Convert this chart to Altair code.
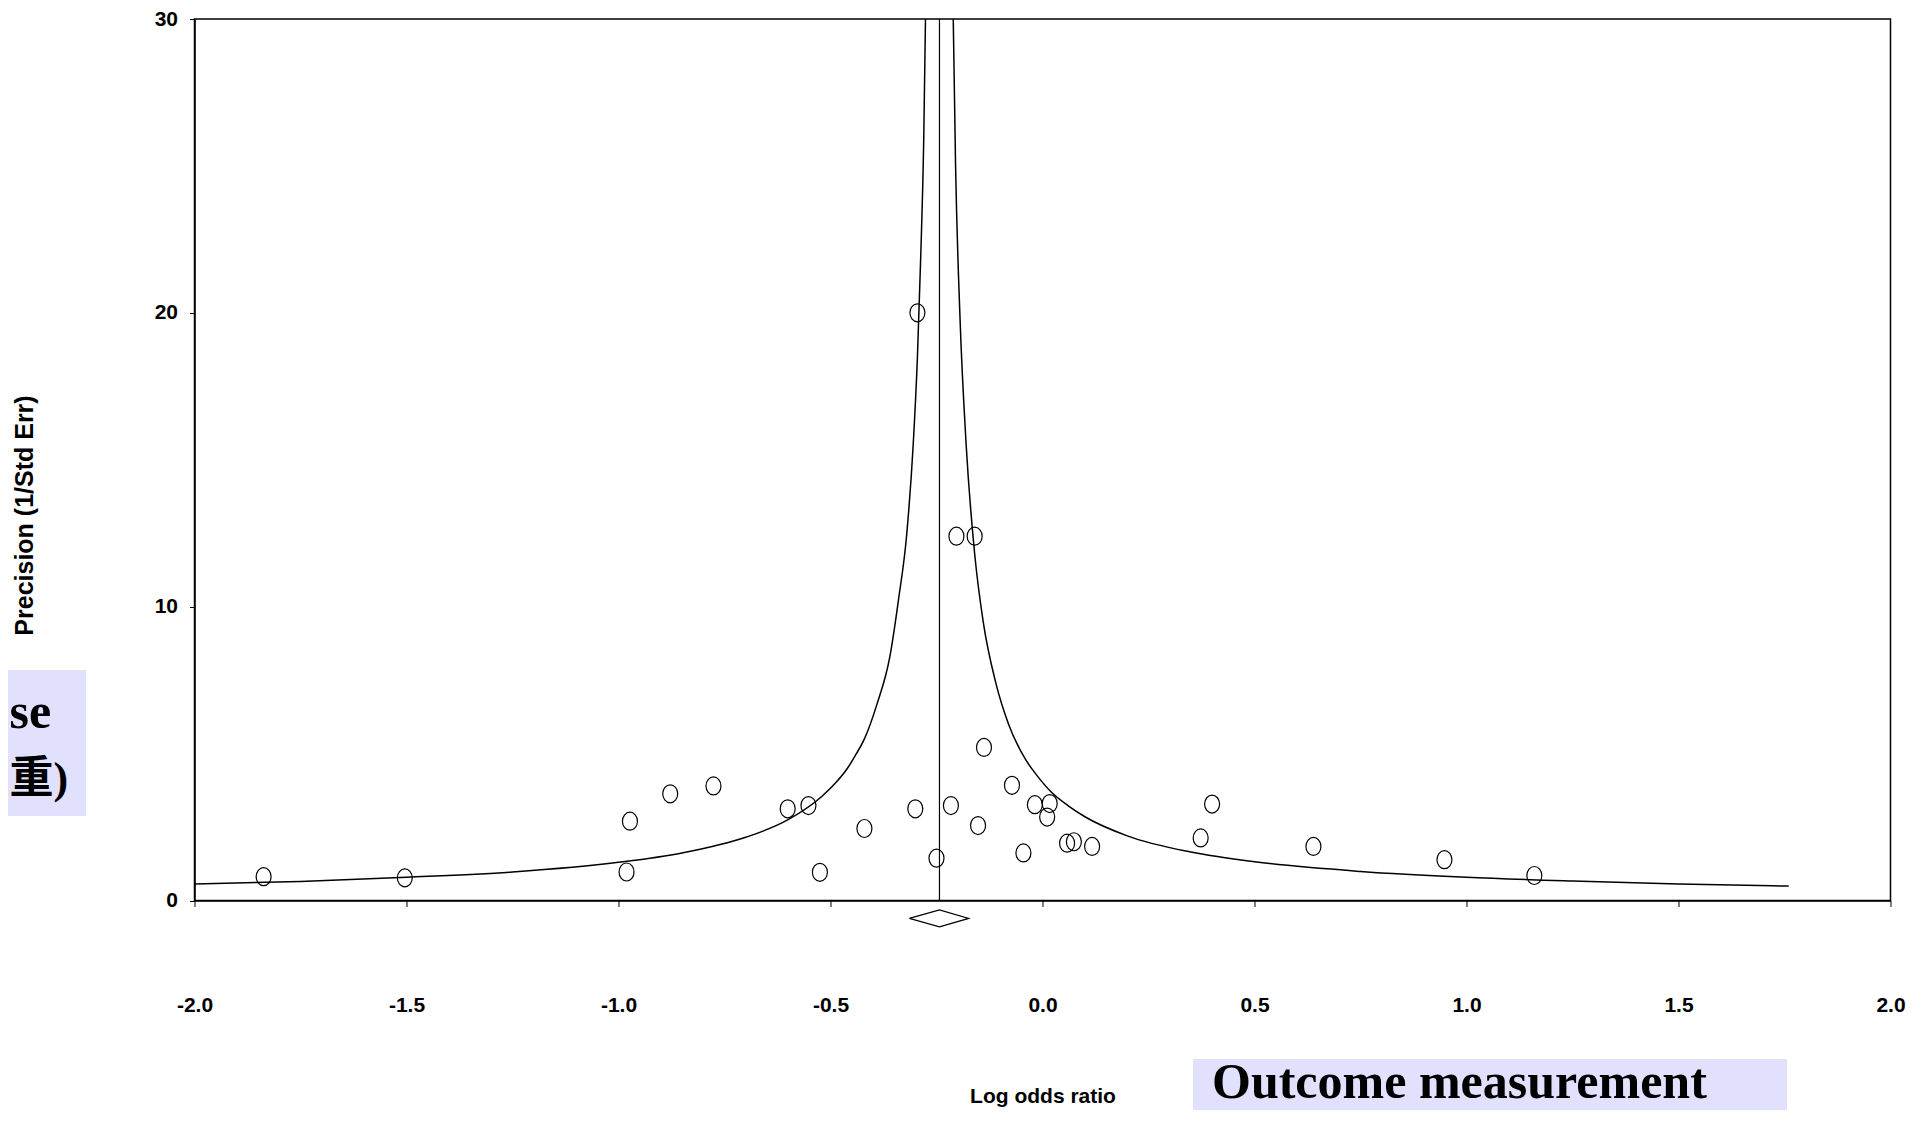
import altair as alt
import pandas as pd

# ---- data ----
study_log_or = [-1.837, -1.504, -0.981, -0.973, -0.878, -0.776, -0.601, -0.552, -0.525,
                -0.420, -0.300, -0.295, -0.250, -0.216, -0.203, -0.160, -0.152, -0.138,
                -0.072, -0.045, -0.018, 0.011, 0.017, 0.058, 0.074, 0.117, 0.373, 0.400,
                0.639, 0.948, 1.160]
study_precision = [0.81, 0.77, 0.97, 2.70, 3.63, 3.90, 3.12, 3.23, 0.96,
                   2.45, 3.12, 20.0, 1.44, 3.23, 12.4, 12.4, 2.55, 5.21,
                   3.92, 1.62, 3.26, 2.84, 3.30, 1.95, 2.00, 1.84, 2.13, 3.28,
                   1.84, 1.39, 0.85]

funnel_left_x = [-2.00, -1.75, -1.50, -1.25, -1.00, -0.85, -0.70, -0.60, -0.52, -0.49,
                 -0.46, -0.44, -0.42, -0.39, -0.36, -0.34, -0.32, -0.305, -0.295, -0.287,
                 -0.280, -0.276]
funnel_left_p = [0.56, 0.65, 0.79, 0.97, 1.30, 1.62, 2.15, 2.75, 3.55, 3.97,
                 4.5, 4.97, 5.5, 6.7, 8.3, 10.2, 12.5, 15.5, 18.5, 22.0,
                 26.0, 30.0]
funnel_right_x = [1.76, 1.50, 1.25, 1.00, 0.75, 0.50, 0.35, 0.20, 0.10, 0.06,
                  0.02, -0.01, -0.04, -0.08, -0.11, -0.14, -0.16, -0.18, -0.195,
                  -0.205, -0.2105]
funnel_right_p = [0.49, 0.56, 0.66, 0.79, 0.99, 1.32, 1.65, 2.2, 2.85, 3.23,
                  3.7, 4.2, 4.8, 6.0, 7.4, 9.5, 11.8, 15.5, 20.0,
                  25.0, 30.0]

pooled_effect = -0.243
diamond_x = [-0.314, -0.243, -0.174, -0.243, -0.314]
diamond_y = [-0.61, -0.32, -0.61, -0.90, -0.61]

x_ticks = [-2.0, -1.5, -1.0, -0.5, 0.0, 0.5, 1.0, 1.5, 2.0]
y_ticks = [0, 10, 20, 30]

# ---- tables ----
pts = pd.DataFrame({"x": study_log_or, "p": study_precision})
left = pd.DataFrame({"x": funnel_left_x, "p": funnel_left_p})
right = pd.DataFrame({"x": funnel_right_x, "p": funnel_right_p})
rule_df = pd.DataFrame({"x": [pooled_effect], "p0": [0], "p1": [30]})
diamond = pd.DataFrame({"x": diamond_x, "p": diamond_y, "i": list(range(len(diamond_x)))})
one = pd.DataFrame({"a": [0]})

W, H = 1696, 881.5
xs = alt.Scale(domain=[-2, 2], nice=False, zero=False)
ys = alt.Scale(domain=[0, 30], nice=False, zero=False)

LABEL_FONT = "Liberation Sans"

x_axis = alt.Axis(
    values=x_ticks,
    labelExpr="datum.value < 0 ? '-' + format(-datum.value, '.1f') : format(datum.value, '.1f')",
    labelFont=LABEL_FONT, labelFontWeight="bold", labelFontSize=21, labelColor="black",
    labelFlush=False,
    tickColor="black", tickSize=6, labelPadding=88, grid=False,
    domainColor="black", domainWidth=1.5,
    title="Log odds ratio", titleFont=LABEL_FONT, titleFontWeight="bold", titleFontSize=21,
    titleColor="black", titleY=202, titleBaseline="alphabetic",
)
y_axis = alt.Axis(
    values=y_ticks, format="d",
    labelFont=LABEL_FONT, labelFontWeight="bold", labelFontSize=21, labelColor="black",
    tickColor="black", tickSize=5, labelPadding=12, grid=False,
    domainColor="black", domainWidth=1.5,
    title="Precision (1/Std Err)", titleFont=LABEL_FONT, titleFontWeight="bold",
    titleFontSize=25, titleColor="black", titleAngle=270, titleAlign="center",
    titleBaseline="middle", titleX=-170, titleY=496,
)

ellipse = "M 0 -1 A 0.833 1 0 1 1 0 1 A 0.833 1 0 1 1 0 -1 Z"

points = alt.Chart(pts).mark_point(
    shape=ellipse, size=324, filled=False, stroke="black", strokeWidth=1.2, opacity=1
).encode(
    x=alt.X("x:Q", scale=xs, axis=x_axis),
    y=alt.Y("p:Q", scale=ys, axis=y_axis),
)

left_line = alt.Chart(left).mark_line(
    color="black", strokeWidth=1.5, interpolate="monotone", clip=True
).encode(x=alt.X("x:Q", scale=xs), y=alt.Y("p:Q", scale=ys))

right_line = alt.Chart(right).mark_line(
    color="black", strokeWidth=1.5, interpolate="monotone", clip=True
).encode(x=alt.X("x:Q", scale=xs), y=alt.Y("p:Q", scale=ys))

center_rule = alt.Chart(rule_df).mark_rule(color="black", strokeWidth=1.2).encode(
    x=alt.X("x:Q", scale=xs), y=alt.Y("p0:Q", scale=ys), y2="p1:Q"
)

diamond_line = alt.Chart(diamond).mark_line(color="black", strokeWidth=1.2).encode(
    x=alt.X("x:Q", scale=xs), y=alt.Y("p:Q", scale=ys), order="i:Q"
)

BOX = "#E1E1FD"
left_box = alt.Chart(one).mark_rect(color=BOX).encode(
    x=alt.value(-186.5), x2=alt.value(-108.5), y=alt.value(651), y2=alt.value(797)
)
left_text1 = alt.Chart(one).mark_text(
    text="se", font="Liberation Serif", fontWeight="bold", fontSize=50,
    align="left", baseline="alphabetic", color="black"
).encode(x=alt.value(-185), y=alt.value(709))
left_text2 = alt.Chart(one).mark_text(
    text="重)", font="Liberation Serif, Noto Sans CJK TC", fontWeight="bold", fontSize=44,
    align="left", baseline="alphabetic", color="black"
).encode(x=alt.value(-185), y=alt.value(774))

bottom_box = alt.Chart(one).mark_rect(color=BOX).encode(
    x=alt.value(998.5), x2=alt.value(1592.5), y=alt.value(1040), y2=alt.value(1110)
)
bottom_text = alt.Chart(one).mark_text(
    text="Outcome measurement", font="Liberation Serif", fontWeight="bold", fontSize=50,
    align="left", baseline="alphabetic", color="black"
).encode(x=alt.value(1017.5), y=alt.value(1079))

chart = alt.layer(
    left_box, left_text1, left_text2, bottom_box, bottom_text,
    left_line, right_line, center_rule, diamond_line, points,
).properties(
    width=W, height=H,
    autosize=alt.AutoSizeParams(type="none"),
    padding={"left": 186.5, "top": 11, "right": 20, "bottom": 209.5},
    background="white",
).configure_view(
    stroke="black", strokeWidth=1.5
)

chart.save("out.html", embed_options={"renderer": "svg", "actions": False})
